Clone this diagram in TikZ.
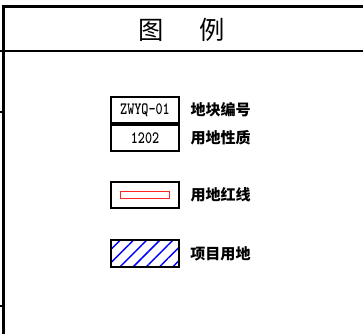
\documentclass[tikz,border=0pt]{standalone}
\usepackage{fontspec}
\newfontfamily\cjk{Noto Sans CJK SC}
\usetikzlibrary{positioning,patterns.meta}

\begin{document}
\begin{tikzpicture}[x=0.75pt,y=-0.75pt,
	frame/.style={line width=1.6pt},
	key box/.style={draw,line width=1.4pt,minimum width=51.5pt,inner sep=0pt},
	key text/.style={font=\cjk\bfseries\fontsize{11.3}{13}\selectfont,inner sep=0pt},
	code text/.style={font=\ttfamily\bfseries\fontsize{13}{15}\selectfont}
	]
	
	\def \bx {145};
	
	\useasboundingbox (0,0) rectangle (363,334);
	
	% frame
	\draw[frame] (363,6.5) -| (3.5,334);
	\draw[frame] (0,51) -- (363,51);
	\foreach \y in {112,306} {
		\draw[frame] (0,\y) -- (3.5,\y);
	}
	
	\node[font=\cjk\fontsize{19}{23}\selectfont] (title) at (182,30) {图\hspace{1.4em}例};
	
	% plot number / land use
	\node[key box,code text,minimum height=20pt] (code) at (\bx,110) {\scalebox{0.78}[1]{ZWYQ-01}};
	\node[key box,code text,minimum height=19.5pt,below=0pt of code] (use) {\scalebox{0.78}[1]{1202}};
	\node[key text,right=7.5pt of code] (code label) {地块编号};
	\node[key text,right=7.5pt of use] (use label) {用地性质};
	
	% red line
	\node[key box,minimum height=20pt] (red box) at (\bx,195) {};
	\node[draw=red!85,line width=0.6pt,minimum width=37.3pt,minimum height=5.5pt,inner sep=0pt] (red line) at (red box) {};
	\node[key text,right=7.5pt of red box] (red label) {用地红线};
	
	% project site
	\node[key box,minimum height=20.5pt,pattern={Lines[angle=45,distance=7pt,line width=1.1pt]},pattern color=blue] (site) at (\bx,253.7) {};
	\node[key text,right=7.5pt of site] (site label) {项目用地};
\end{tikzpicture}
\end{document}
